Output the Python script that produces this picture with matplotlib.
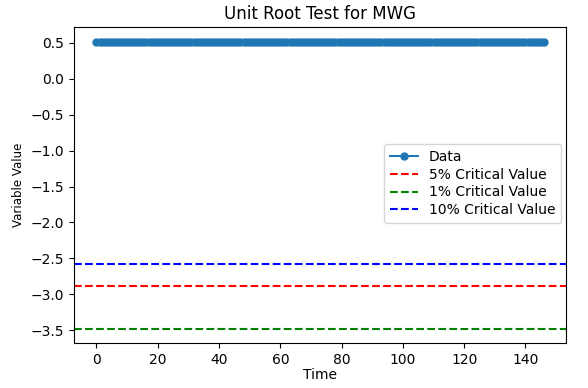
import matplotlib
matplotlib.use("Agg")
import matplotlib.pyplot as plt

# Dane: statystyka testu (stała) i wartości krytyczne
time_index = list(range(147))
data_values = [0.52] * len(time_index)
crit_5 = -2.88
crit_1 = -3.48
crit_10 = -2.58

fig = plt.figure(figsize=(5.88, 3.88), dpi=100)
ax = fig.add_axes([0.126, 0.116, 0.837, 0.814])

ax.plot(time_index, data_values, marker='o', markersize=5, color='#1f77b4', label='Data')
ax.axhline(crit_5, color='red', linestyle='--', label='5% Critical Value')
ax.axhline(crit_1, color='green', linestyle='--', label='1% Critical Value')
ax.axhline(crit_10, color='blue', linestyle='--', label='10% Critical Value')

ax.set_title('Unit Root Test for MWG')
ax.set_xlabel('Time', labelpad=1)
ax.set_ylabel('Variable Value', fontsize=8.5,
              family=['Liberation Sans Narrow', 'DejaVu Sans'])
ax.legend(loc='center right', bbox_to_anchor=(1.0, 0.505),
          labelspacing=0.28, borderaxespad=0.4)

fig.savefig('out.png', dpi=100)
